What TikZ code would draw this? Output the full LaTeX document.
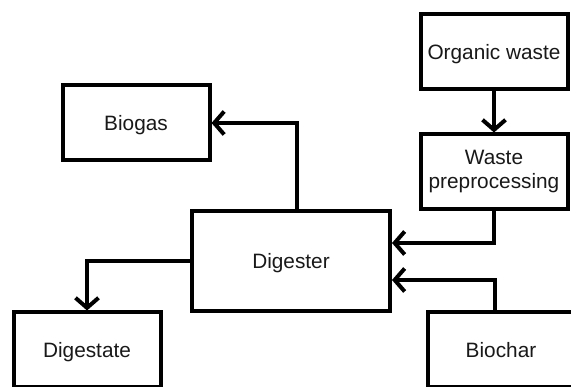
\documentclass[tikz,border=0pt]{standalone}
\usepackage{fontspec}
\setmainfont{Liberation Sans}
\usetikzlibrary{arrows.meta}
\begin{document}
\begin{tikzpicture}[x=1pt,y=-1pt,
  box/.style={draw=black, line width=4pt, fill=white, minimum width=147pt, minimum height=75pt,
    inner sep=0pt, align=center, font=\fontsize{20.8}{24}\selectfont, text=black!90},
  oneline/.style={box, text depth=0pt},
  bigbox/.style={oneline, minimum width=198pt, minimum height=100pt},
  arr/.style={draw=black, line width=4pt, line join=miter, -{Straight Barb[length=10pt,width=23pt,line width=4pt]}}]
\useasboundingbox (0,0) rectangle (571,387);
\clip (0,0) rectangle (571,387);
\node[oneline] (organic) at (494,52) {Organic waste};
\node[box] (waste) at (494,172) {Waste\\preprocessing};
\node[oneline] (biogas) at (136,123) {Biogas};
\node[bigbox] (digester) at (291,261) {Digester};
\node[oneline] (digestate) at (87,350) {Digestate};
\node[oneline] (biochar) at (501,350) {Biochar};
\draw[arr] (organic.south) -- (waste.north);
\draw[arr] ([xshift=6pt]digester.north) |- (biogas.east);
\draw[arr] (digester.west) -| (digestate.north);
\draw[arr] (waste.south) |- ([yshift=18pt]digester.east);
\draw[arr] ([xshift=-6pt]biochar.north) |- ([yshift=-19pt]digester.east);
\end{tikzpicture}
\end{document}
